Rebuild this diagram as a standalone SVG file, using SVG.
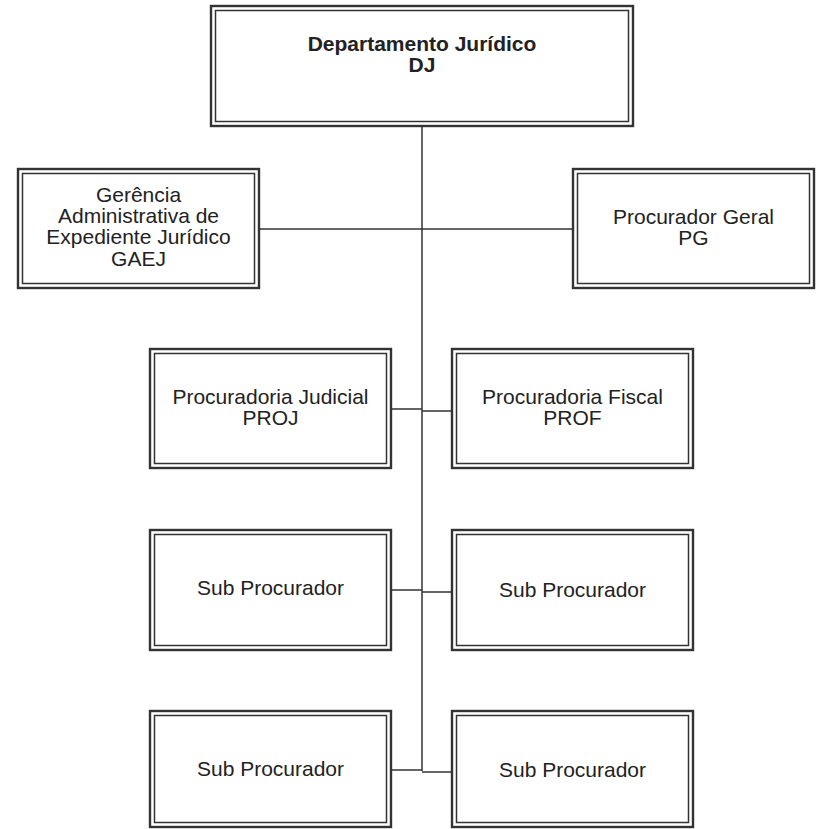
<svg xmlns="http://www.w3.org/2000/svg" width="819" height="829" viewBox="0 0 819 829">
<style>
.o{fill:#fff;stroke:#333;stroke-width:2.4}
.i{fill:none;stroke:#333;stroke-width:1.5}
.c{fill:none;stroke:#333;stroke-width:1.5}
text{font-family:"Liberation Sans",Arial,sans-serif;font-size:21px;fill:#222;text-anchor:middle}
.b{font-weight:bold;font-size:21px}
</style>
<rect width="819" height="829" fill="#fff"/>
<g id="connectors">
<path class="c" d="M422 127V771"/>
<path class="c" d="M260 229H572"/>
<path class="c" d="M392 409H422M422 411H452"/>
<path class="c" d="M392 590H422M422 592H452"/>
<path class="c" d="M392 770H422M422 772H452"/>
</g>
<g id="dj">
<rect class="o" x="211" y="6" width="422" height="120"/>
<rect class="i" x="215.5" y="10.5" width="413" height="111"/>
<text class="b" x="422" y="51">Departamento Jurídico</text>
<text class="b" x="422" y="72">DJ</text>
</g>
<g id="gaej">
<rect class="o" x="18" y="169" width="241" height="119"/>
<rect class="i" x="22.5" y="173.5" width="232" height="110"/>
<text x="138.5" y="202">Gerência</text>
<text x="138.5" y="223">Administrativa de</text>
<text x="138.5" y="244">Expediente Jurídico</text>
<text x="138.5" y="266">GAEJ</text>
</g>
<g id="pg">
<rect class="o" x="573" y="169" width="241" height="119"/>
<rect class="i" x="577.5" y="173.5" width="232" height="110"/>
<text x="693.5" y="223.5">Procurador Geral</text>
<text x="693.5" y="245">PG</text>
</g>
<g id="proj">
<rect class="o" x="150" y="349" width="241" height="119"/>
<rect class="i" x="154.5" y="353.5" width="232" height="110"/>
<text x="270.5" y="403.5">Procuradoria Judicial</text>
<text x="270.5" y="425">PROJ</text>
</g>
<g id="prof">
<rect class="o" x="452" y="349" width="241" height="119"/>
<rect class="i" x="456.5" y="353.5" width="232" height="110"/>
<text x="572.5" y="403.5">Procuradoria Fiscal</text>
<text x="572.5" y="425">PROF</text>
</g>
<g id="sub1">
<rect class="o" x="150" y="530" width="241" height="120"/>
<rect class="i" x="154.5" y="534.5" width="232" height="111"/>
<text x="270.5" y="595">Sub Procurador</text>
</g>
<g id="sub2">
<rect class="o" x="452" y="530" width="241" height="120"/>
<rect class="i" x="456.5" y="534.5" width="232" height="111"/>
<text x="572.5" y="597">Sub Procurador</text>
</g>
<g id="sub3">
<rect class="o" x="150" y="711" width="241" height="116"/>
<rect class="i" x="154.5" y="715.5" width="232" height="107"/>
<text x="270.5" y="776">Sub Procurador</text>
</g>
<g id="sub4">
<rect class="o" x="452" y="711" width="241" height="116"/>
<rect class="i" x="456.5" y="715.5" width="232" height="107"/>
<text x="572.5" y="777">Sub Procurador</text>
</g>
</svg>
